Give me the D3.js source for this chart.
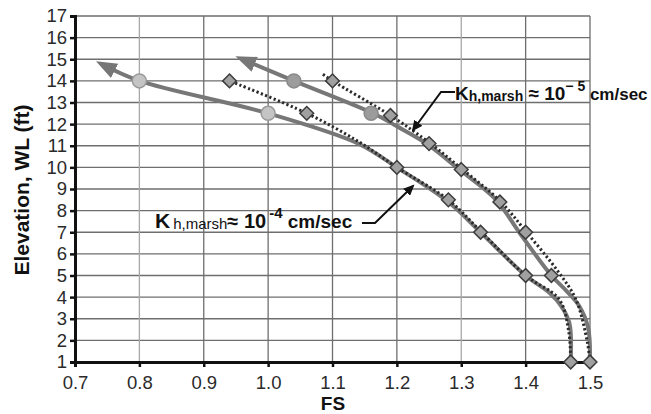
<!DOCTYPE html>
<html>
<head>
<meta charset="utf-8">
<script src="https://cdn.jsdelivr.net/npm/d3@7"></script>
<style>
  body { margin: 0; background: #fff; }
  text { font-family: "Liberation Sans", Arial, sans-serif; }
</style>
</head>
<body>
<div id="chart"></div>
<script>
// tick values
var fsTicks = [0.7, 0.8, 0.9, 1.0, 1.1, 1.2, 1.3, 1.4, 1.5];
var elevTicks = [1, 2, 3, 4, 5, 6, 7, 8, 9, 10, 11, 12, 13, 14, 15, 16, 17];

// diamonds, Kh ~ 1e-4 (lower curve)
var fsK4 = [1.47, 1.40, 1.33, 1.28, 1.20, 1.06, 0.94];
var elevK4 = [1, 5, 7, 8.5, 10, 12.5, 14];
// diamonds, Kh ~ 1e-5 (upper curve)
var fsK5 = [1.50, 1.44, 1.40, 1.36, 1.30, 1.25, 1.19, 1.10];
var elevK5 = [1, 5, 7, 8.4, 9.9, 11.1, 12.4, 14];

// circles
var fsCircLow = [1.00, 0.80];
var elevCircLow = [12.5, 14];
var fsCircHigh = [1.16, 1.04];
var elevCircHigh = [12.5, 14];

// solid fitted curves (end at arrow)
var fsFitLow = [1.47, 1.468, 1.455, 1.437, 1.40, 1.33, 1.28, 1.20, 1.14, 1.00, 0.80, 0.745];
var elevFitLow = [1, 2.8, 3.6, 4.2, 5, 7, 8.4, 10, 11.1, 12.5, 14, 14.72];
var fsFitHigh = [1.50, 1.497, 1.483, 1.463, 1.44, 1.39, 1.354, 1.297, 1.246, 1.20, 1.163, 1.04, 0.962];
var elevFitHigh = [1, 2.6, 3.6, 4.3, 5, 7, 8.5, 9.9, 11.1, 11.9, 12.5, 14, 14.98];

// dotted curves
var fsDotLow = [1.47, 1.467, 1.452, 1.40, 1.33, 1.28, 1.20, 1.14, 1.06, 0.94];
var elevDotLow = [1, 2.4, 3.9, 5, 7.05, 8.5, 10, 11.2, 12.5, 14];
var fsDotHigh = [1.50, 1.496, 1.478, 1.45, 1.40, 1.36, 1.30, 1.25, 1.19, 1.10, 1.083];
var elevDotHigh = [1, 1.9, 3.9, 5.2, 7.05, 8.45, 9.95, 11.15, 12.4, 14, 14.35];

function zip(xs, ys) { return xs.map(function(v, i) { return [v, ys[i]]; }); }

var svgWidth = 651, svgHeight = 414;
var margin = { top: 16, right: 61, bottom: 52, left: 75 };
var width = svgWidth - margin.left - margin.right;
var height = svgHeight - margin.top - margin.bottom;

var svg = d3.select("#chart").append("svg")
    .attr("width", svgWidth)
    .attr("height", svgHeight);

var defs = svg.append("defs");
defs.append("marker")
    .attr("id", "bigArrow")
    .attr("markerUnits", "userSpaceOnUse")
    .attr("markerWidth", 24).attr("markerHeight", 20)
    .attr("refX", 12).attr("refY", 9)
    .attr("orient", "auto")
    .append("path").attr("d", "M0,1 L21,9 L0,17 Z").attr("fill", "#777");
defs.append("marker")
    .attr("id", "smallArrow")
    .attr("markerUnits", "userSpaceOnUse")
    .attr("markerWidth", 12).attr("markerHeight", 10)
    .attr("refX", 9).attr("refY", 5)
    .attr("orient", "auto")
    .append("path").attr("d", "M0,0 L11,5 L0,10 Z").attr("fill", "#111");

var chartGroup = svg.append("g")
    .attr("transform", `translate(${margin.left}, ${margin.top})`);

var x = d3.scaleLinear().domain([0.7, 1.5]).range([0, width]);
var y = d3.scaleLinear().domain([1, 17]).range([height, 0]);

// grid
chartGroup.append("g").selectAll("line")
    .data(elevTicks.slice(1))
    .enter().append("line")
    .attr("x1", 0).attr("x2", width)
    .attr("y1", d => y(d)).attr("y2", d => y(d))
    .attr("stroke", "#6e6e6e").attr("stroke-width", 1.3);
chartGroup.append("g").selectAll("line")
    .data(fsTicks.slice(1))
    .enter().append("line")
    .attr("y1", 0).attr("y2", height)
    .attr("x1", d => x(d)).attr("x2", d => x(d))
    .attr("stroke", d => (Math.abs(d - 0.8) < 1e-6 || Math.abs(d - 1.3) < 1e-6) ? "#a8a8a8" : "#6e6e6e")
    .attr("stroke-width", 1.3);

// axes
var leftAxis = d3.axisLeft(y).tickValues(elevTicks).tickSize(5).tickPadding(3);
var bottomAxis = d3.axisBottom(x).tickValues(fsTicks).tickSize(5).tickPadding(9)
    .tickFormat(d3.format(".1f"));

var gy = chartGroup.append("g").call(leftAxis);
var gx = chartGroup.append("g").attr("transform", `translate(0, ${height})`).call(bottomAxis);
[gx, gy].forEach(function(g) {
  g.select(".domain").attr("stroke", "#111").attr("stroke-width", 3);
  g.selectAll(".tick line").attr("stroke", "#111").attr("stroke-width", 2.5);
  g.selectAll(".tick text")
    .attr("font-family", "'Liberation Sans', Arial, sans-serif")
    .attr("font-size", 18.5).attr("fill", "#2a2a2a");
});

// solid fitted curves with arrows
var line = d3.line()
    .x(d => x(d[0])).y(d => y(d[1]))
    .curve(d3.curveCatmullRom.alpha(0.5));

[zip(fsFitLow, elevFitLow), zip(fsFitHigh, elevFitHigh)].forEach(function(pts) {
  chartGroup.append("path")
    .attr("d", line(pts))
    .attr("fill", "none")
    .attr("stroke", "#777")
    .attr("stroke-width", 4)
    .attr("marker-end", "url(#bigArrow)");
});

// dotted curves
[zip(fsDotLow, elevDotLow), zip(fsDotHigh, elevDotHigh)].forEach(function(pts) {
  chartGroup.append("path")
    .attr("d", line(pts))
    .attr("fill", "none")
    .attr("stroke", "#2a2a2a")
    .attr("stroke-width", 3)
    .attr("stroke-dasharray", "2.2,2.4");
});

// circles
chartGroup.append("g").selectAll("circle")
    .data(zip(fsCircLow, elevCircLow))
    .enter().append("circle")
    .attr("cx", d => x(d[0])).attr("cy", d => y(d[1]))
    .attr("r", 7)
    .attr("fill", "#c4c4c4").attr("stroke", "#9a9a9a").attr("stroke-width", 1.5);
chartGroup.append("g").selectAll("circle")
    .data(zip(fsCircHigh, elevCircHigh))
    .enter().append("circle")
    .attr("cx", d => x(d[0])).attr("cy", d => y(d[1]))
    .attr("r", 7)
    .attr("fill", "#9c9c9c").attr("stroke", "#8a8a8a").attr("stroke-width", 1.5);

// diamonds
var diamond = d3.symbol().type(d3.symbolDiamond2).size(120);
chartGroup.append("g").selectAll("path")
    .data(zip(fsK4, elevK4).concat(zip(fsK5, elevK5)))
    .enter().append("path")
    .attr("d", diamond)
    .attr("transform", d => `translate(${x(d[0])}, ${y(d[1])})`)
    .attr("fill", "#a0a0a0").attr("stroke", "#3c3c3c").attr("stroke-width", 1.5);

// annotation, Kh ~ 1e-5
var t1 = svg.append("text")
    .attr("x", 455).attr("y", 100)
    .attr("font-weight", "bold").attr("fill", "#111");
t1.append("tspan").attr("font-size", 19).text("K");
t1.append("tspan").attr("font-size", 14).attr("dy", 1).text("h,marsh");
t1.append("tspan").attr("font-size", 19).attr("dy", -1).text(" \u2248 10");
t1.append("tspan").attr("font-size", 14).attr("dy", -9).text("\u2212 5");
t1.append("tspan").attr("font-size", 17).attr("dy", 9).text(" cm/sec");

svg.append("path")
    .attr("d", "M455,92 L441,92 L413,130")
    .attr("fill", "none").attr("stroke", "#111").attr("stroke-width", 2)
    .attr("marker-end", "url(#smallArrow)");

// annotation, Kh ~ 1e-4
var t2 = svg.append("text")
    .attr("x", 155).attr("y", 228)
    .attr("font-weight", "bold").attr("fill", "#111");
t2.append("tspan").attr("font-size", 21).text("K");
t2.append("tspan").attr("font-size", 15).attr("font-weight", "normal").attr("dy", 1).attr("dx", 3).text("h,marsh");
t2.append("tspan").attr("font-size", 20).attr("dy", -1).text("\u2248 10");
t2.append("tspan").attr("font-size", 15).attr("dy", -10).attr("dx", 3).text("-4");
t2.append("tspan").attr("font-size", 19).attr("dy", 10).text(" cm/sec");

svg.append("path")
    .attr("d", "M362,223 L375,223 L413,186")
    .attr("fill", "none").attr("stroke", "#111").attr("stroke-width", 2)
    .attr("marker-end", "url(#smallArrow)");

// axis titles
svg.append("text")
    .attr("transform", "translate(28.5, 190) rotate(-90)")
    .attr("text-anchor", "middle")
    .attr("font-size", 21).attr("font-weight", "bold").attr("fill", "#111")
    .text("Elevation, WL (ft)");

svg.append("text")
    .attr("x", 333).attr("y", 410)
    .attr("text-anchor", "middle")
    .attr("font-size", 19).attr("font-weight", "bold").attr("fill", "#111")
    .text("FS");
</script>
</body>
</html>
